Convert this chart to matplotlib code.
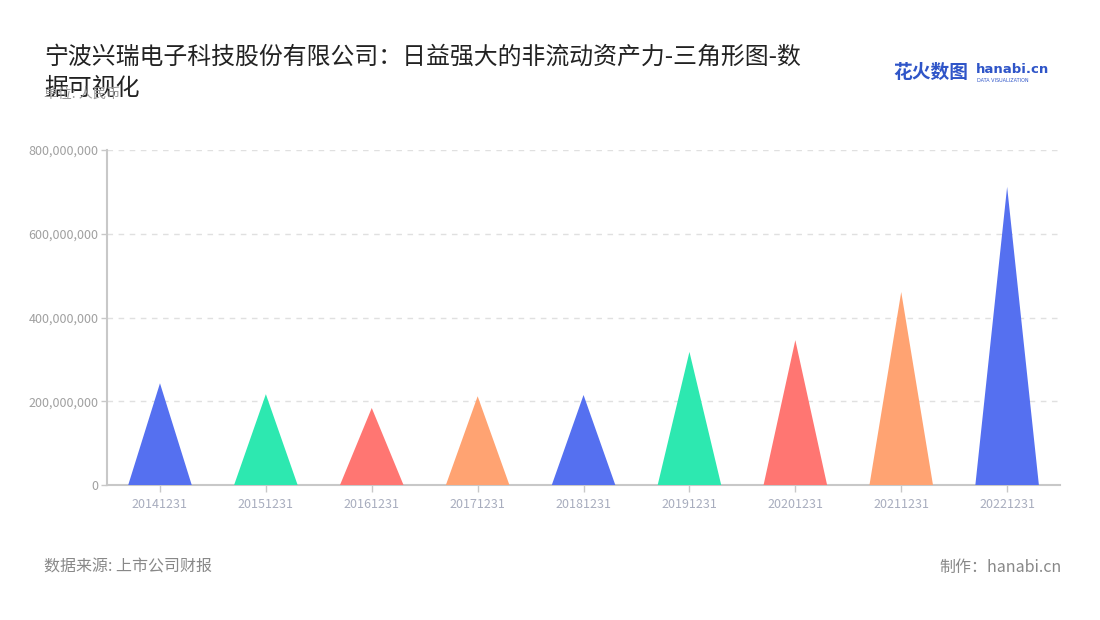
import numpy as np
import matplotlib.pyplot as plt
from matplotlib.ticker import FuncFormatter

plt.rcParams['font.family'] = ['Noto Sans CJK SC', 'DejaVu Sans']

# --- DATA ---
dates = ['20141231', '20151231', '20161231', '20171231', '20181231',
         '20191231', '20201231', '20211231', '20221231']
values = [243e6, 217e6, 184e6, 212e6, 215e6, 318e6, 346e6, 461e6, 712e6]
colors = ['#5570F0', '#2DE8B0', '#FF7672', '#FFA372']

title = '宁波兴瑞电子科技股份有限公司：日益强大的非流动资产力-三角形图-数\n据可视化'

# --- PLOTTING ---
fig = plt.figure(figsize=(11, 6.2), dpi=100)
ax = fig.add_axes([0.0973, 0.2177, 0.8664, 0.5403])

half = 0.3
for i, v in enumerate(values):
    ax.fill([i - half, i, i + half], [0, v, 0], color=colors[i % len(colors)],
            linewidth=0, zorder=3)

ax.set_xlim(-0.5, len(dates) - 0.5)
ax.set_ylim(0, 800e6)
ax.set_xticks(range(len(dates)))
ax.set_xticklabels(dates)
ax.set_yticks(np.arange(0, 800e6 + 1, 200e6))
ax.yaxis.set_major_formatter(FuncFormatter(lambda v, p: f'{int(v):,}'))

ax.grid(axis='y', linestyle=(0, (4, 4)), color='#E0E0E0', linewidth=1, zorder=0)
for s in ['top', 'right']:
    ax.spines[s].set_visible(False)
for s in ['left', 'bottom']:
    ax.spines[s].set_color('#C8C8C8')
    ax.spines[s].set_linewidth(1.5)

ax.tick_params(axis='x', colors='#C8C8C8', length=5, width=1, labelsize=9,
               labelcolor='#A8ADBE', pad=4)
ax.tick_params(axis='y', colors='#C8C8C8', length=4, width=1, labelsize=9,
               labelcolor='#A0A0A0', pad=2)

fig.text(0.04, 0.926, title, fontsize=17.2, color='#222222', va='top',
         linespacing=1.45)
fig.text(0.04, 0.848, '单位: 人民币', fontsize=10, color='#999999', va='center')

fig.text(0.04, 0.085, '数据来源: 上市公司财报', fontsize=11.5, color='#888888', va='center')
fig.text(0.965, 0.085, '制作：hanabi.cn', fontsize=11.5, color='#888888',
         va='center', ha='right')

# logo
fig.text(0.812, 0.883, '花火数图', fontsize=13.5, color='#2F55C8', fontweight='bold',
         va='center')
fig.text(0.887, 0.888, 'hanabi.cn', fontsize=9.5, color='#2F55C8', fontweight='bold',
         va='center', family=['DejaVu Sans'])
fig.text(0.888, 0.870, 'DATA VISUALIZATION', fontsize=3.5, color='#2F55C8',
         va='center', family=['DejaVu Sans'])

fig.savefig('out.png', dpi=100)
